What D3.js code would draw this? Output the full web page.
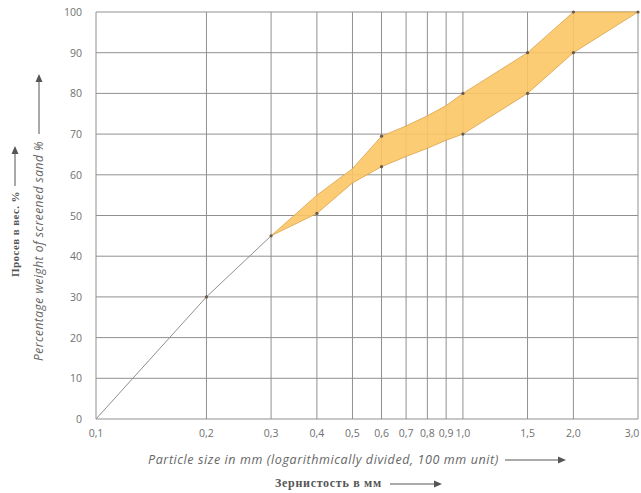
<!DOCTYPE html>
<html>
<head>
<meta charset="utf-8">
<script src="https://cdn.jsdelivr.net/npm/d3@7"></script>
<style>
  body { margin: 0; background: #fff; }
  svg { display: block; }
</style>
</head>
<body>
<div id="chart"></div>
<script>
// data
let xTicks = [0.1, 0.2, 0.3, 0.4, 0.5, 0.6, 0.7, 0.8, 0.9, 1.0, 1.5, 2.0, 3.0];
let yTicks = [0, 10, 20, 30, 40, 50, 60, 70, 80, 90, 100];

let fineSize = [0.1, 0.2, 0.3];
let fineValue = [0, 30, 45];

let bandSize  = [0.3, 0.4, 0.5, 0.6, 0.7, 0.8, 0.9, 1.0, 1.5, 2.0, 3.0];
let upperValue = [45, 55, 61.5, 69.5, 72, 74.5, 77, 80, 90, 100, 100];
let lowerValue = [45, 50.5, 58, 62, 64.5, 66.5, 68.5, 70, 80, 90, 100];

let markUpper = [0.6, 1.0, 1.5, 2.0, 3.0];
let markLower = [0.4, 0.6, 1.0, 1.5, 2.0];

let W = 641, H = 493;
let margin = { top: 12, right: 3, bottom: 74, left: 96 };
let w = W - margin.left - margin.right;
let h = H - margin.top - margin.bottom;

let svg = d3.select("#chart")
            .append("svg")
            .attr("width", W)
            .attr("height", H);

let g = svg.append("g")
           .attr("transform", "translate(" + margin.left + "," + margin.top + ")");

let x = d3.scaleLog().domain([0.1, 3.0]).range([0, w]);
let y = d3.scaleLinear().domain([0, 100]).range([h, 0]);

let fmt = d => d3.format(".1f")(d).replace(".", ",");

// grid
g.append("g")
 .selectAll("line")
 .data(yTicks)
 .enter()
 .append("line")
 .attr("x1", 0).attr("x2", w)
 .attr("y1", d => y(d)).attr("y2", d => y(d))
 .style("stroke", "#909090")
 .style("stroke-width", 1);

g.append("g")
 .selectAll("line")
 .data(xTicks)
 .enter()
 .append("line")
 .attr("x1", d => x(d)).attr("x2", d => x(d))
 .attr("y1", 0).attr("y2", h)
 .style("stroke", "#909090")
 .style("stroke-width", 1);

// band
let band = bandSize.map((s, i) => ({ s: s, lo: lowerValue[i], hi: upperValue[i] }));
let area = d3.area()
             .x(d => x(d.s))
             .y0(d => y(d.lo))
             .y1(d => y(d.hi));

g.append("path")
 .datum(band)
 .attr("d", area)
 .style("fill", "#fcc765")
 .style("fill-opacity", 0.9)
 .style("stroke", "#d9a24a")
 .style("stroke-width", 0.8);

// fine line
let line = d3.line().x(d => x(d[0])).y(d => y(d[1]));
g.append("path")
 .datum(fineSize.map((s, i) => [s, fineValue[i]]))
 .attr("d", line)
 .style("fill", "none")
 .style("stroke", "#8f8f8f")
 .style("stroke-width", 1);

// marker dots
let dots = fineSize.slice(1).map((s, i) => [s, fineValue[i + 1]])
  .concat(markUpper.map(s => [s, upperValue[bandSize.indexOf(s)]]))
  .concat(markLower.map(s => [s, lowerValue[bandSize.indexOf(s)]]));

g.append("g")
 .selectAll("circle")
 .data(dots)
 .enter()
 .append("circle")
 .attr("cx", d => x(d[0]))
 .attr("cy", d => y(d[1]))
 .attr("r", 1.6)
 .style("fill", "#6a5a4a");

// tick labels
g.append("g")
 .selectAll("text")
 .data(yTicks)
 .enter()
 .append("text")
 .attr("x", -14)
 .attr("y", d => y(d) + 4)
 .attr("text-anchor", "end")
 .style("font-family", "Open Sans, sans-serif")
 .style("font-size", "10.5px")
 .style("fill", "#707070")
 .text(d => d);

g.append("g")
 .selectAll("text")
 .data(xTicks)
 .enter()
 .append("text")
 .attr("x", d => x(d) + (d == 3.0 ? -6 : 0))
 .attr("y", h + 18)
 .attr("text-anchor", "middle")
 .style("font-family", "Open Sans, sans-serif")
 .style("font-size", "10.5px")
 .style("fill", "#707070")
 .text(fmt);

// axis titles
let arrow = (x1, y1, x2, y2) => {
  svg.append("line")
     .attr("x1", x1).attr("y1", y1).attr("x2", x2).attr("y2", y2)
     .style("stroke", "#555").style("stroke-width", 1);
  let a = Math.atan2(y2 - y1, x2 - x1);
  let p = [[x2 + 4 * Math.cos(a), y2 + 4 * Math.sin(a)],
           [x2 - 4 * Math.cos(a) - 3.5 * Math.sin(a), y2 - 4 * Math.sin(a) + 3.5 * Math.cos(a)],
           [x2 - 4 * Math.cos(a) + 3.5 * Math.sin(a), y2 - 4 * Math.sin(a) - 3.5 * Math.cos(a)]];
  svg.append("path")
     .attr("d", "M" + p.join("L") + "Z")
     .style("fill", "#555");
};

svg.append("text")
   .attr("transform", "translate(43,251) rotate(-90)")
   .attr("text-anchor", "middle")
   .style("font-family", "Open Sans, sans-serif")
   .style("font-style", "italic")
   .style("font-size", "12px")
   .style("letter-spacing", "0.5px")
   .style("fill", "#666")
   .text("Percentage weight of screened sand %");
arrow(39, 134, 39, 78);

svg.append("text")
   .attr("transform", "translate(19,234) rotate(-90)")
   .attr("text-anchor", "middle")
   .style("font-family", "Liberation Serif, serif")
   .style("font-weight", "bold")
   .style("font-size", "11px")
   .style("letter-spacing", "0.4px")
   .style("fill", "#555")
   .text("Просев в вес. %");
arrow(15, 186, 15, 150);

svg.append("text")
   .attr("x", 275)
   .attr("y", 487)
   .style("font-family", "Liberation Serif, serif")
   .style("font-weight", "bold")
   .style("font-size", "12px")
   .style("letter-spacing", "0.7px")
   .style("fill", "#555")
   .text("Зернистость в мм");
arrow(390, 484, 438, 484);

svg.append("text")
   .attr("x", 148)
   .attr("y", 464)
   .style("font-family", "Open Sans, sans-serif")
   .style("font-style", "italic")
   .style("font-size", "12.5px")
   .style("letter-spacing", "0.6px")
   .style("fill", "#666")
   .text("Particle size in mm (logarithmically divided, 100 mm unit)");
arrow(505, 460, 562, 460);
</script>
</body>
</html>
